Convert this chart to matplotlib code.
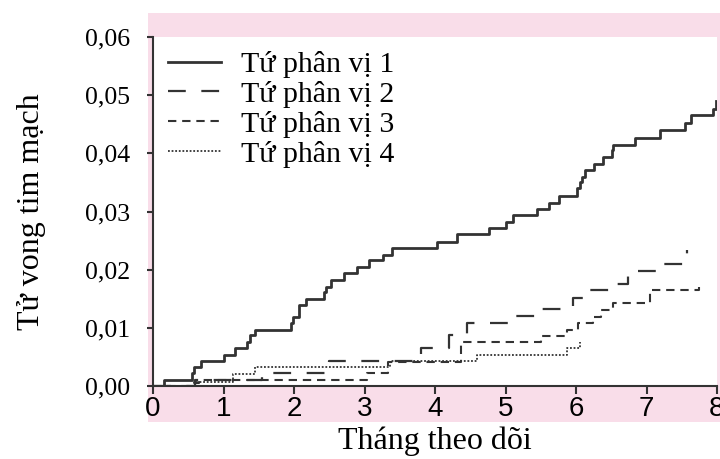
import matplotlib.pyplot as plt
from matplotlib.patches import Rectangle

########  data  ########

labels = ["Tứ phân vị 1", "Tứ phân vị 2", "Tứ phân vị 3", "Tứ phân vị 4"]

q1_x = [0, 0.15, 0.55, 0.58, 0.68, 1.0, 1.17, 1.34, 1.37, 1.45,
        1.96, 1.99, 2.07, 2.17, 2.43, 2.46, 2.53, 2.71, 2.90, 3.06,
        3.26, 3.39, 4.03, 4.31, 4.77, 5.01, 5.10, 5.44, 5.61, 5.76,
        6.02, 6.05, 6.09, 6.13, 6.25, 6.39, 6.51, 6.53, 6.84, 7.19,
        7.55, 7.63, 7.95, 7.99]
q1_y = [0, 0.0011, 0.0022, 0.0033, 0.0043, 0.0054, 0.0065, 0.0076, 0.0087, 0.0097,
        0.0109, 0.0119, 0.0139, 0.0150, 0.0162, 0.0171, 0.0183, 0.0194, 0.0205, 0.0216,
        0.0226, 0.0237, 0.0248, 0.0261, 0.0272, 0.0282, 0.0294, 0.0305, 0.0315, 0.0327,
        0.0340, 0.0350, 0.0360, 0.0371, 0.0382, 0.0393, 0.0406, 0.0415, 0.0427, 0.0440,
        0.0453, 0.0466, 0.0477, 0.0490]

q2_x = [0, 0.6, 1.55, 2.5, 3.8, 4.2, 4.45, 5.08, 5.5, 5.96, 6.2, 6.5, 6.74, 7.14, 7.57]
q2_y = [0, 0.001, 0.0023, 0.0043, 0.0065, 0.0087, 0.0108, 0.0120, 0.0132, 0.0152,
        0.0165, 0.0176, 0.0198, 0.0210, 0.0234]

q3_x = [0, 0.6, 0.65, 3.03, 3.33, 4.37, 5.51, 5.87, 6.03, 6.24, 6.36, 6.52, 7.05, 7.75]
q3_y = [0, 0.0005, 0.001, 0.0022, 0.0042, 0.0075, 0.0086, 0.0097, 0.0108, 0.0119,
        0.0131, 0.0143, 0.0165, 0.0170]

q4_x = [0, 0.58, 1.13, 1.45, 3.36, 4.6, 5.87, 6.05]
q4_y = [0, 0.0007, 0.0021, 0.0033, 0.0043, 0.0054, 0.0065, 0.0076]

x_ticks = [0, 1, 2, 3, 4, 5, 6, 7, 8]
y_ticks = [0.00, 0.01, 0.02, 0.03, 0.04, 0.05, 0.06]
y_ticklabels = ["0,00", "0,01", "0,02", "0,03", "0,04", "0,05", "0,06"]

########  plot  ########

serif = ["Liberation Serif", "DejaVu Serif"]
sans = ["Liberation Sans Narrow", "Liberation Sans", "DejaVu Sans"]
ink = "#333333"
pink = "#f9dde9"

fig = plt.figure(figsize=(7.2, 4.59), dpi=100)
bg = Rectangle((148 / 720, 37 / 459), 1 - 148 / 720, 409 / 459,
               transform=fig.transFigure, facecolor=pink, edgecolor="none", zorder=-5)
fig.add_artist(bg)
ax = fig.add_axes([153 / 720, 73 / 459, 564 / 720, 349 / 459])
ax.set_facecolor("white")

ax.plot(q1_x, q1_y, drawstyle="steps-post", color=ink, lw=2.0, label=labels[0])
ax.plot(q2_x, q2_y, drawstyle="steps-post", color=ink, lw=1.6, dashes=(8, 7), label=labels[1])
ax.plot(q3_x, q3_y, drawstyle="steps-post", color=ink, lw=1.5, dashes=(4, 2.8), label=labels[2])
ax.plot(q4_x, q4_y, drawstyle="steps-post", color=ink, lw=1.3, dashes=(1, 1), label=labels[3])

ax.set_xlim(0, 8)
ax.set_ylim(0, 0.06)
ax.set_xticks(x_ticks)
ax.set_xticklabels([str(t) for t in x_ticks], family=sans, fontsize=20)
ax.set_yticks(y_ticks)
ax.set_yticklabels(y_ticklabels, family=serif, fontsize=18.5)
ax.tick_params(axis="x", length=6, width=1.5, color=ink, pad=1.5)
ax.tick_params(axis="y", length=4.5, width=1.5, color=ink, pad=12)

for s in ["top", "right"]:
    ax.spines[s].set_visible(False)
for s in ["left", "bottom"]:
    ax.spines[s].set_color(ink)
    ax.spines[s].set_linewidth(1.5)

ax.set_xlabel("Tháng theo dõi", family=serif, fontsize=23, labelpad=3)
ax.set_ylabel("Tử vong tim mạch", family=serif, fontsize=23, labelpad=28)

ax.legend(loc="upper left", bbox_to_anchor=(0.026, 0.96), frameon=False,
          prop={"family": serif, "size": 21.5}, handlelength=1.77,
          handletextpad=0.67, labelspacing=0.1, borderpad=0, borderaxespad=0)

plt.savefig("out.png", dpi=100)
plt.close()
